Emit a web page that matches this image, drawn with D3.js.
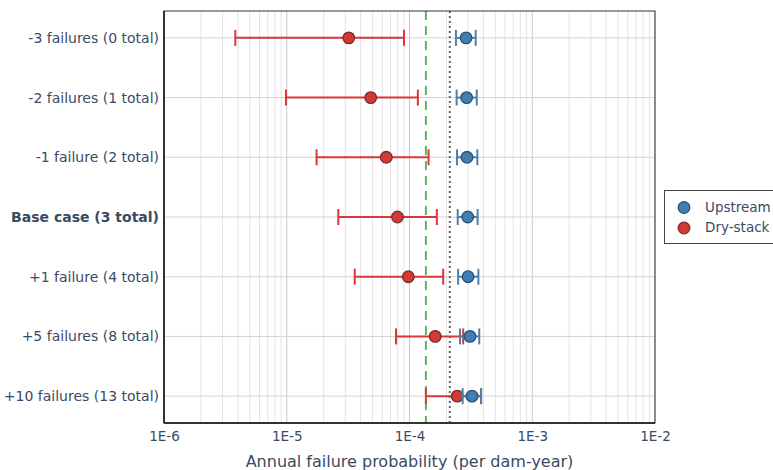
<!DOCTYPE html>
<html><head><meta charset="utf-8">
<script src="https://cdn.jsdelivr.net/npm/d3@7"></script>
<style>body{margin:0;background:#fff}svg{display:block}</style>
</head><body>
<svg id="chart" width="773" height="470"></svg>
<script>
const categories = ["-3 failures (0 total)","-2 failures (1 total)","-1 failure (2 total)","Base case (3 total)","+1 failure (4 total)","+5 failures (8 total)","+10 failures (13 total)"];
const upstreamMid  = [2.89e-4,2.92e-4,2.94e-4,2.98e-4,3.00e-4,3.11e-4,3.23e-4];
const upstreamLow  = [2.39e-4,2.42e-4,2.44e-4,2.47e-4,2.49e-4,2.58e-4,2.71e-4];
const upstreamHigh = [3.46e-4,3.53e-4,3.57e-4,3.59e-4,3.64e-4,3.70e-4,3.83e-4];
const drystackMid  = [3.2e-5,4.83e-5,6.47e-5,7.98e-5,9.78e-5,1.62e-4,2.45e-4];
const drystackLow  = [3.81e-6,9.86e-6,1.75e-5,2.63e-5,3.58e-5,7.76e-5,1.36e-4];
const drystackHigh = [9.02e-5,1.17e-4,1.43e-4,1.67e-4,1.88e-4,2.74e-4,3.83e-4];
const xTicks = [1e-6,1e-5,1e-4,1e-3,1e-2];
const xTickLabels = ["1E-6","1E-5","1E-4","1E-3","1E-2"];
const greenLine = 1.36e-4;
const grayLine = 2.13e-4;
const seriesNames = ["Upstream","Dry-stack"];

const svg = d3.select("#chart");
const L=164, R=655, T=11, B=423;
const font = "'DejaVu Sans', Verdana, sans-serif";
const textCol = "#3a4a63";
const x = d3.scaleLog().domain([1e-6,1e-2]).range([L,R]);
const y = d3.scaleLinear().domain([-0.45,6.45]).range([T,B]);

// minor grid
const minor = [];
for (let e=-6;e<-2;e++) for (let m=2;m<=9;m++) minor.push(m*Math.pow(10,e));
svg.append("g").selectAll("line").data(minor).join("line")
  .attr("x1",d=>x(d)).attr("x2",d=>x(d)).attr("y1",T).attr("y2",B)
  .attr("stroke","#e4e4e4").attr("stroke-width",1);
svg.append("g").selectAll("line").data(xTicks).join("line")
  .attr("x1",d=>x(d)).attr("x2",d=>x(d)).attr("y1",T).attr("y2",B)
  .attr("stroke","#c8c8c8").attr("stroke-width",1);
svg.append("g").selectAll("line").data(categories).join("line")
  .attr("x1",L).attr("x2",R).attr("y1",(d,i)=>y(i)).attr("y2",(d,i)=>y(i))
  .attr("stroke","#d4d4d4").attr("stroke-width",1);

// reference lines
svg.append("line").attr("x1",x(greenLine)).attr("x2",x(greenLine)).attr("y1",T).attr("y2",B)
  .attr("stroke","#62b35a").attr("stroke-width",2).attr("stroke-dasharray","9,6");
svg.append("line").attr("x1",x(grayLine)).attr("x2",x(grayLine)).attr("y1",T).attr("y2",B)
  .attr("stroke","#666").attr("stroke-width",2).attr("stroke-dasharray","2,3");

// frame
svg.append("rect").attr("x",L).attr("y",T).attr("width",R-L).attr("height",B-T)
  .attr("fill","none").attr("stroke","#333").attr("stroke-width",1);
svg.append("line").attr("x1",L).attr("x2",L).attr("y1",T).attr("y2",B).attr("stroke","#333").attr("stroke-width",2);
svg.append("line").attr("x1",L).attr("x2",R).attr("y1",B).attr("y2",B).attr("stroke","#333").attr("stroke-width",2);

// axes
const xAxis = d3.axisBottom(x).tickValues(xTicks).tickFormat((d,i)=>xTickLabels[i]).tickSize(0).tickPadding(8);
const gx = svg.append("g").attr("transform",`translate(0,${B})`).call(xAxis);
gx.select(".domain").remove();
gx.selectAll("text").attr("font-family",font).attr("font-size",13.5).attr("fill",textCol);

const yAxis = d3.axisLeft(y).tickValues(d3.range(categories.length)).tickFormat(i=>categories[i]).tickSize(0).tickPadding(5);
const gy = svg.append("g").attr("transform",`translate(${L},0)`).call(yAxis);
gy.select(".domain").remove();
gy.selectAll("text").attr("font-family",font).attr("font-size",14).attr("fill",textCol)
  .attr("font-weight",(d,i)=>i===3?"bold":"normal");

svg.append("text").attr("x",(L+R)/2).attr("y",462).attr("text-anchor","middle").attr("dominant-baseline","middle")
  .attr("font-family",font).attr("font-size",16).attr("fill",textCol).text("Annual failure probability (per dam-year)");

function drawSeries(mid, lo, hi, col, fill, stroke){
  const g = svg.append("g");
  const idx = d3.range(mid.length);
  g.selectAll("line.bar").data(idx).join("line")
    .attr("x1",i=>x(lo[i])).attr("x2",i=>x(hi[i])).attr("y1",i=>y(i)).attr("y2",i=>y(i))
    .attr("stroke",col).attr("stroke-width",2);
  g.selectAll("line.lo").data(idx).join("line")
    .attr("x1",i=>x(lo[i])).attr("x2",i=>x(lo[i])).attr("y1",i=>y(i)-8).attr("y2",i=>y(i)+8)
    .attr("stroke",col).attr("stroke-width",2);
  g.selectAll("line.hi").data(idx).join("line")
    .attr("x1",i=>x(hi[i])).attr("x2",i=>x(hi[i])).attr("y1",i=>y(i)-8).attr("y2",i=>y(i)+8)
    .attr("stroke",col).attr("stroke-width",2);
  g.selectAll("circle").data(idx).join("circle")
    .attr("cx",i=>x(mid[i])).attr("cy",i=>y(i)).attr("r",5.8)
    .attr("fill",fill).attr("stroke",stroke).attr("stroke-width",1.3);
}
drawSeries(drystackMid, drystackLow, drystackHigh, "#d9383a", "#d13a36", "#7a2a2a");
drawSeries(upstreamMid, upstreamLow, upstreamHigh, "#4a80b0", "#3f7fb4", "#2d4f6e");

// legend
const lg = svg.append("g");
lg.append("rect").attr("x",664.5).attr("y",190.5).attr("width",120).attr("height",53)
  .attr("fill","#fff").attr("stroke","#444").attr("stroke-width",1);
const legCols = [["#3f7fb4","#2d4f6e"],["#d13a36","#7a2a2a"]];
seriesNames.forEach((n,i)=>{
  const yy = 207.5 + i*20.5;
  lg.append("circle").attr("cx",684).attr("cy",yy).attr("r",5.8).attr("fill",legCols[i][0]).attr("stroke",legCols[i][1]).attr("stroke-width",1.3);
  lg.append("text").attr("x",705).attr("y",yy).attr("dominant-baseline","middle")
    .attr("font-family",font).attr("font-size",13.5).attr("fill",textCol).text(n);
});
</script>
</body></html>
